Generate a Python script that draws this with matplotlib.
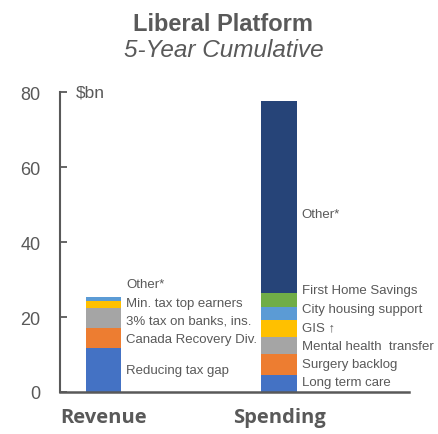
import numpy as np
import matplotlib.pyplot as plt
from matplotlib import font_manager

# 5-year cumulative totals, $bn
categories = ["Revenue", "Spending"]

revenue_items = ["Reducing tax gap", "Canada Recovery Div.", "3% tax on banks, ins.",
                 "Min. tax top earners", "Other*"]
revenue_vals = [11.8, 5.3, 5.3, 1.9, 1.1]

spending_items = ["Long term care", "Surgery backlog", "Mental health  transfer", "GIS \u2191",
                  "City housing support", "First Home Savings", "Other*"]
spending_vals = [4.4, 5.7, 4.7, 4.3, 3.6, 3.7, 51.4]

yticks = [0, 20, 40, 60, 80]

rev_colors = ["#4472C4", "#ED7D31", "#A5A5A5", "#FFC000", "#5B9BD5"]
spd_colors = ["#4472C4", "#ED7D31", "#A5A5A5", "#FFC000", "#5B9BD5", "#70AD47", "#264478"]

# label nudges (in $bn) so the stacked labels don't collide
rev_nudge = [0, -0.3, -0.8, 0.5, 3.9]
spd_nudge = [0.4, 0.2, -0.1, 0.2, 1.2, 2.7, -4.6]

grey = "#595959"
narrow = [f for f in ["Liberation Sans Narrow", "Liberation Sans"]
          if any(f == x.name for x in font_manager.fontManager.ttflist)]

fig = plt.figure(figsize=(4.38, 4.35), dpi=100)
ax = fig.add_axes([0.137, 0.0966, 0.797, 0.689])

width = 0.2
x = np.arange(len(categories))


def stack(xpos, vals, colors, names, nudges):
    bottom = 0
    for v, c, name, n in zip(vals, colors, names, nudges):
        ax.bar(xpos, v, width, bottom=bottom, color=c, linewidth=0)
        ax.text(xpos + width / 2 + 0.03, bottom + v / 2 + n, name, fontsize=9.5,
                family=narrow + ["DejaVu Sans"], color=grey, va="center", ha="left")
        bottom += v


stack(x[0], revenue_vals, rev_colors, revenue_items, rev_nudge)
stack(x[1], spending_vals, spd_colors, spending_items, spd_nudge)

ax.set_xlim(-0.248, 1.741)
ax.set_ylim(0, 80)
ax.set_yticks(yticks)
ax.set_xticks([])
ax.tick_params(axis="y", direction="in", length=5, width=1.3, color=grey,
               labelsize=13, labelcolor=grey, pad=14)
for lbl in ax.get_yticklabels():
    lbl.set_family("Liberation Sans")
for s in ["top", "right"]:
    ax.spines[s].set_visible(False)
ax.spines["left"].set_color(grey)
ax.spines["left"].set_linewidth(1.5)
ax.spines["bottom"].set_color(grey)
ax.spines["bottom"].set_linewidth(1.8)
ax.spines["left"].set_bounds(0, 80)

for xi, cat in zip(x, categories):
    ax.text(xi, -4.0, cat, fontsize=14.5, fontweight="bold", color=grey,
            family=["Open Sans", "DejaVu Sans"], ha="center", va="top")

ax.text(0.045, 80, "$bn", transform=ax.get_yaxis_transform(), fontsize=12.5, color=grey,
        family="Liberation Sans", va="center", ha="left")

fig.text(0.51, 0.943, "Liberal Platform", fontsize=17, fontweight="bold", color=grey,
         family="Liberation Sans", ha="center", va="center")
fig.text(0.51, 0.885, "5-Year Cumulative", fontsize=17.5, style="italic", color=grey,
         family="Liberation Sans", ha="center", va="center")

fig.savefig("out.png", dpi=100)
